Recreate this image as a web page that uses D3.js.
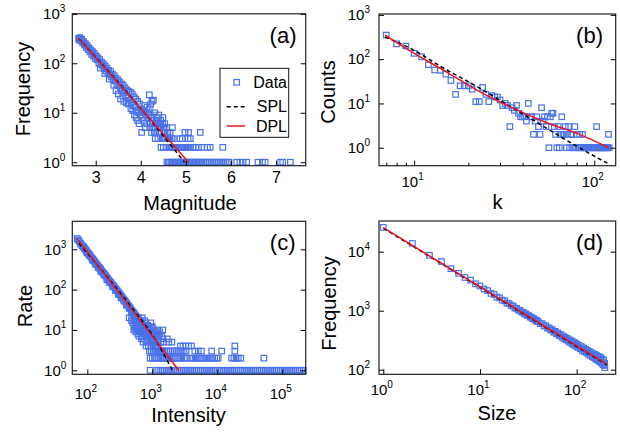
<!DOCTYPE html>
<html>
<head>
<meta charset="utf-8">
<script src="https://cdn.jsdelivr.net/npm/d3@7"></script>
<style>
  html, body { margin: 0; padding: 0; background: #fff; }
  svg { display: block; }
</style>
</head>
<body>
<svg id="fig" width="620" height="432"></svg>
<script>
// ---------- (a) earthquake magnitudes ----------
const magA = [2.62,2.63,2.64,2.65,2.67,2.69,2.71,2.73,2.75,2.77,2.79,2.81,2.83,2.85,2.87,2.89,2.91,2.93,2.95,2.97,2.99,
  3.01,3.03,3.05,3.07,3.09,3.11,3.13,3.15,3.17,3.19,3.21,3.23,3.25,3.27,3.29,3.31,3.33,3.35,3.37,3.39,
  3.41,3.43,3.45,3.47,3.49,3.51,3.53,3.55,3.57,3.59,3.61,3.63,3.65,3.67,3.69,3.71,3.73,3.75,3.77,3.79,
  3.81,3.83,3.85,3.87,3.89,3.91,3.93,3.95,3.97,3.99,
  3.1,3.2,3.3,3.4,3.45,3.5,3.55,3.6,3.62,3.68,3.72,3.78,3.82,3.86,3.9,3.93,3.96,4.02,
  4.01,4.03,4.05,4.07,4.09,4.11,4.13,4.15,4.17,4.19,4.21,4.23,4.25,4.27,4.29,4.31,4.33,4.35,4.37,4.39,
  4.41,4.43,4.45,4.47,4.49,4.51,4.53,4.55,4.57,4.59,4.61,
  4.19,4.28,4.22,4.14,4.08,4.18,4.24,4.34,4.36,4.42,4.46,4.3,4.38,4.26,4.32,4.4,4.44,4.48,4.52,4.1,4.2,4.5,4.7];
const freqA = [310,320,295,330,290,305,260,275,235,250,210,228,190,205,170,185,150,172,140,158,125,
  140,118,128,100,118,95,105,88,97,78,88,70,80,64,72,58,68,53,60,47,
  56,44,50,38,46,35,42,31,38,28,36,26,32,22,29,20,27,18,26,16,
  24,14,21,13,19,11,17,10,15,9,
  80,62,48,36,28,24,19,22,17,16,15,12,11,9,8,7,6,4,
  12,8,11,7,14,9,6,10,8,12,6,9,17,7,5,10,6,8,5,7,
  4,6,5,3,8,4,6,3,5,4,3,
  23,18,15,13,10,9,8,7,6,5,4,4,3,5,3,9,7,6,5,5,5,5,5];
// magnitudes that occur exactly 4, 3, 2 and 1 times
const magA4 = [4.24,4.33,4.4,4.54,4.6,4.65,4.98,5.06,5.32];
const magA3 = [4.48,4.52,4.58,4.62,4.64,4.68,4.72,4.87,4.92,5.05,5.1];
const magA2 = [4.45,4.5,4.56,4.63,4.66,4.7,4.73,4.76,4.79,4.83,4.87,4.9,4.93,4.96,5.0,5.03,5.06,5.1,
  5.16,5.22,5.28,5.35,5.48,5.54,5.82];
const magA1 = [4.58,4.61,4.64,4.67,4.7,4.73,4.76,4.79,4.82,4.85,4.88,4.91,4.94,4.97,5.0,5.03,5.06,5.09,
  5.12,5.15,5.18,5.21,5.24,5.27,5.3,5.33,5.36,5.4,5.44,5.48,5.52,5.56,5.6,5.64,5.68,5.72,5.76,5.8,
  5.84,5.88,5.92,5.96,6.13,6.2,6.27,6.35,6.6,6.7,6.76,7.1,7.15,7.32];
const splA = [[2.62,318],[4.0,12.2],[4.97,1.0]];
const dplA = [[2.61,324],[5.06,1]];

// ---------- (b) counts vs k ----------
const kB = [7,8,9,10,11,12,13,14,15,16,17,18,19,20,21,22,23,24,25,26,27,28,29,30,31,32,33,34,35,36,37,38,39,40,
  41,42,43,44,45,46,47,48,49,50,51,52,53,54,55,56,57,58,59,60,61,62,63,64,65,66,67,68,69,70,
  71,72,73,74,75,76,77,78,79,80,81,82,83,84,85,86,87,88,89,90,91,92,93,94,95,96,97,98,99,100,
  101,103,104,105,106,107,108,109,110,111,112,113,114,115,116,117,118,119,120,121];
const countB = [350,222,198,135,113,75,57,56,46,33,16,25,25,25,21,11,11,23,16,11,15,14,14,12,9,10,9,3,8,7,9,6,5,5,
  5,4,10,5,5,2,4,5,3,2,8,4,5,3,5,1,5,6,6,3,2,1,3,1,2,5,2,2,3,1,
  2,3,1,2,2,1,1,3,1,2,1,1,2,1,1,2,1,1,1,1,1,1,1,1,1,1,1,1,1,1,
  1,3,1,1,1,1,1,1,1,1,1,1,1,1,1,1,1,1,2,1];
const splB = [[6.9,316],[9.5,177],[14.6,62.7],[22.3,24.1],[34.2,8.51],[52.5,3.01],[80.4,1.06],[118,0.449]];
const dplB = [[6.9,347],[9.9,138],[15.0,52.5],[22.3,20],[35.2,7.94],[54.1,3.72],[82.8,2.0],[120.2,1.0]];

// ---------- (c) rate vs intensity ----------
const intensityC = [70,72,75,78,80,83,86,90,93,96,100,103,106,110,114,118,122,126,130,135,
  140,145,150,155,160,166,172,178,185,192,199,206,214,222,230,239,248,257,267,277,
  288,299,310,322,334,347,360,374,388,403,418,434,451,468,486,505,524,544,565,587,
  609,632,656,681,707,734,762,791,821,852,885,919,954,990,1028,1067,1108,1150,1194,1240,
  1290,1340,1390,1450,1500,
  88,98,108,120,133,147,162,180,200,220,245,270,300,330,365,400,440,480,520,560];
const rateC = [1850,1700,1600,1420,1350,1230,1150,1050,1000,930,860,790,760,700,640,600,560,520,490,450,
  420,390,360,340,318,290,270,255,236,220,200,188,172,160,150,138,128,120,110,102,
  94,87,80,74,68,63,58,54,50,46,42,39,36,33,30,28,26,24,22,20,
  18,17,15,14,13,12,11,10,9,8,7,7,6,6,5,5,4,4,4,3,
  3,3,3,2,2,
  1150,820,700,540,430,350,280,230,175,150,118,95,76,62,52,41,34,28,23,19];
// intensities recorded at a common low rate, one list per rate level
const rowRatesC = [20,17,15,13,12,11,10,9,8,7,6,5,4,3,2,1];
const rowIntC = [
  [440,480,520,560,610,700],
  [480,530,590,650,760],
  [500,560,620,700,800,950],
  [520,580,640,720,850],
  [560,600,680,780,900,1000],
  [540,620,700,820,980],
  [520,580,660,750,880,1050,1200,1450],
  [560,640,720,800,950,1100,1300],
  [600,680,760,870,1000,1150,1300],
  [620,700,800,900,1050,1200,1400],
  [680,760,850,980,1100,1250,1450,1700],
  [720,820,950,1080,1200,1350,1500,1800,2000],
  [800,870,950,1030,1120,1220,2700,2950,3250,3600,4000,18600],
  [900,960,1030,1100,1180,1260,1350,1450,1550,1660,1780,1900,2040,2180,2340,2500,2680,2870,3070,3300,
   4500,5100,5700,8200,11700,18600],
  [925,1000,1080,1160,1250,1350,1450,1560,1680,1800,1950,2100,2250,2450,2650,2850,3100,3350,3900,4200,
   4550,4900,5300,5700,6200,6700,7200,7800,8400,9100,9800,10300,16600,18000,19500,21000,23000,52000],
  [925,1170,1250,1340,1430,1530,1640,1750,1870,2000,2140,2290,2450,2620,2800,3000,3200,3430,3670,3920,
   4200,4490,4800,5140,5500,5880,6290,6730,7200,7700,8240,8820,9440,10100,10800,11550,12350,13200,
   14150,15100,16200,17300,18500,19800,21200,22700,24300,26000,27800,29700,31800,34000,36400,38900,
   41600,44500,47600,50900,54500,58300,62400,66700,71400,76400,81700,87400,93500,100000,107000,
   114500,122500,131000,140000,150000,160500,172000,184000,197000,211000]
];
const splC = [[74.1,1413],[199.5,214],[501,33.1],[1000,7.59],[2042,1.0]];
const dplC = [[70,1830],[2600,0.96]];

// ---------- (d) frequency vs size ----------
const sizeD = [1,2,3,4,5,6,7,8,9,10,11,12,13,14,15,16,17,18,19,20,21,22,23,24,25,26,27,28,29,30,
  31,32,33,34,35,36,37,38,39,40,
  42,44,46,48,50,52,54,56,58,60,62,64,66,68,70,72,74,76,78,80,82,84,86,88,90,92,94,96,98,100,
  103,106,109,112,115,118,121,124,127,130,133,136,139,142,145,148,151,154,157,160,
  163,166,169,172,175,178,181,184,187,190,193,195,196];
const freqD = [25800,13800,8700,6800,5150,4300,3650,3300,2850,2620,2330,2190,1960,1880,1700,1650,1510,1470,1340,1320,
  1225,1200,1110,1095,1025,1012,948,940,880,878,826,822,775,776,730,735,690,697,652,662,
  605,603,550,556,505,514,468,478,432,447,405,420,380,395,356,374,338,355,320,338,
  303,322,290,308,275,296,262,285,252,272,
  238,258,226,245,212,233,202,222,193,212,182,203,175,195,166,186,160,181,152,176,
  147,168,141,164,135,160,130,150,122,145,118,128,108];
const splD = [[1,25000],[205,121]];
const dplD = [[1,25500],[205,124]];

// ---------- tick values ----------
const ticksAx = [3,4,5,6,7];
const ticksAy = [1,10,100,1000];
const ticksBx = [10,100];
const minorBx = [7,8,9,20,30,40,50,60,70,80,90];
const ticksBy = [1,10,100,1000];
const ticksCx = [1e2,1e3,1e4,1e5];
const ticksCy = [1,10,100,1000];
const ticksDx = [1,10,100];
const ticksDy = [100,1000,10000];

const FONT = "'Liberation Sans', Arial, Helvetica, sans-serif";
const BLUE = "#4a72e8";
const MS = 5.5; // marker side
const svg = d3.select("#fig").attr("font-family", FONT);

function powerLabels(sel, supSize, raise) {
  sel.each(function(d) {
    const t = d3.select(this);
    t.text(null);
    t.append("tspan").text("10");
    t.append("tspan").attr("font-size", supSize).attr("dy", -raise).text(Math.round(Math.log10(d)));
  });
}

function drawPanel(p) {
  const g = svg.append("g");
  const x = p.x, y = p.y;
  const [x0, x1] = x.range();
  const [yb, yt] = y.range();

  // markers
  g.append("g").selectAll("rect").data(p.points).join("rect")
    .attr("x", d => x(d[0]) - MS / 2).attr("y", d => y(d[1]) - MS / 2)
    .attr("width", MS).attr("height", MS)
    .attr("fill", "none").attr("stroke", BLUE).attr("stroke-width", 1.2);

  // fitted curves
  const line = d3.line().x(d => x(d[0])).y(d => y(d[1])).curve(d3.curveMonotoneX);
  g.append("path").attr("d", line(p.spl)).attr("fill", "none")
    .attr("stroke", "#000").attr("stroke-width", 1.5).attr("stroke-dasharray", "4,3");
  g.append("path").attr("d", line(p.dpl)).attr("fill", "none")
    .attr("stroke", "#e8141c").attr("stroke-width", 1.5);

  // frame
  g.append("rect").attr("x", x0).attr("y", yt).attr("width", x1 - x0).attr("height", yb - yt)
    .attr("fill", "none").attr("stroke", "#222").attr("stroke-width", 1.2);

  // y axis (left, labelled) and mirrored ticks on the right
  const ya = g.append("g").attr("transform", `translate(${x0},0)`)
    .call(d3.axisLeft(y).tickValues(p.yTicks).tickSizeInner(-5).tickSizeOuter(0).tickPadding(p.yPad));
  ya.attr("font-family", FONT).attr("font-size", 15);
  ya.select(".domain").remove();
  powerLabels(ya.selectAll(".tick text"), 10, 7);

  const yr = g.append("g").attr("transform", `translate(${x1},0)`)
    .call(d3.axisRight(y).tickValues(p.yTicks).tickSizeInner(-5).tickSizeOuter(0).tickFormat(""));
  yr.select(".domain").remove();

  // x axis
  const xAxis = d3.axisBottom(x).tickValues(p.xTicks).tickSizeInner(-5).tickSizeOuter(0).tickPadding(p.xPad);
  if (!p.xPow) xAxis.tickFormat(d3.format("d"));
  const xa = g.append("g").attr("transform", `translate(0,${yb})`).call(xAxis);
  xa.attr("font-family", FONT).attr("font-size", p.xPow ? 15 : 16);
  xa.select(".domain").remove();
  if (p.xPow) {
    powerLabels(xa.selectAll(".tick text"), 10, 7);
    xa.selectAll(".tick text").attr("dx", -2);
  }
  if (p.xMinor) {
    const xm = g.append("g").attr("transform", `translate(0,${yb})`)
      .call(d3.axisBottom(x).tickValues(p.xMinor).tickSizeInner(-3).tickSizeOuter(0).tickFormat(""));
    xm.select(".domain").remove();
  }

  // titles
  g.append("text").attr("x", p.xt[0]).attr("y", p.xt[1]).attr("text-anchor", "middle")
    .attr("font-size", 20).text(p.xTitle);
  g.append("text").attr("transform", `translate(${p.yt[0]},${p.yt[1]}) rotate(-90)`)
    .attr("text-anchor", "middle").attr("font-size", 20).text(p.yTitle);
  g.append("text").attr("x", p.tag[0]).attr("y", p.tag[1]).attr("text-anchor", "end")
    .attr("font-size", 22).text(p.tagText);
  return g;
}

// point lists
const ptsA = magA.map((m, i) => [m, freqA[i]])
  .concat(magA4.map(m => [m, 4]), magA3.map(m => [m, 3]), magA2.map(m => [m, 2]), magA1.map(m => [m, 1]));
const ptsB = kB.map((k, i) => [k, countB[i]]);
const ptsC = intensityC.map((v, i) => [v, rateC[i]])
  .concat(...rowRatesC.map((r, j) => rowIntC[j].map(v => [v, r])));
const ptsD = sizeD.map((s, i) => [s, freqD[i]]);

// (a)
const gA = drawPanel({
  x: d3.scaleLinear().domain([2.48, 7.66]).range([72.3, 305.7]),
  y: d3.scaleLog().domain([Math.pow(10, -0.07), 1000]).range([165.7, 13.8]),
  points: ptsA, spl: splA, dpl: dplA,
  xTicks: ticksAx, yTicks: ticksAy, xPow: false, xPad: 6, yPad: 7,
  xTitle: "Magnitude", xt: [190, 210], yTitle: "Frequency", yt: [30, 89],
  tagText: "(a)", tag: [296.5, 42.5]
});

// legend of (a)
const lg = gA.append("g");
lg.append("rect").attr("x", 220).attr("y", 68.3).attr("width", 68.7).attr("height", 69)
  .attr("fill", "#fff").attr("stroke", "#111").attr("stroke-width", 1);
lg.append("rect").attr("x", 236.7 - MS / 2).attr("y", 82.3 - MS / 2).attr("width", MS).attr("height", MS)
  .attr("fill", "none").attr("stroke", BLUE).attr("stroke-width", 1.2);
lg.append("line").attr("x1", 226.7).attr("x2", 245).attr("y1", 106.7).attr("y2", 106.7)
  .attr("stroke", "#000").attr("stroke-width", 1.5).attr("stroke-dasharray", "4,3");
lg.append("line").attr("x1", 226.7).attr("x2", 245).attr("y1", 126).attr("y2", 126)
  .attr("stroke", "#e8141c").attr("stroke-width", 1.5);
[["Data", 88], ["SPL", 112.4], ["DPL", 131.5]].forEach(([t, yy]) => {
  lg.append("text").attr("x", 287).attr("y", yy).attr("text-anchor", "end")
    .attr("font-size", 16).text(t);
});

// (b)
drawPanel({
  x: d3.scaleLog().domain([Math.pow(10, 0.805), Math.pow(10, 2.119)]).range([379, 615.7]),
  y: d3.scaleLog().domain([Math.pow(10, -0.406), Math.pow(10, 3.02)]).range([165.7, 14]),
  points: ptsB, spl: splB, dpl: dplB,
  xTicks: ticksBx, xMinor: minorBx, yTicks: ticksBy, xPow: true, xPad: 11, yPad: 9,
  xTitle: "k", xt: [497.5, 209], yTitle: "Counts", yt: [335, 92],
  tagText: "(b)", tag: [603, 42.5]
});

// (c)
drawPanel({
  x: d3.scaleLog().domain([Math.pow(10, 1.769), Math.pow(10, 5.36)]).range([72.3, 305.7]),
  y: d3.scaleLog().domain([Math.pow(10, -0.099), Math.pow(10, 3.694)]).range([374.3, 221.3]),
  points: ptsC, spl: splC, dpl: dplC,
  xTicks: ticksCx, yTicks: ticksCy, xPow: true, xPad: 14, yPad: 6,
  xTitle: "Intensity", xt: [188.5, 422], yTitle: "Rate", yt: [31.5, 306],
  tagText: "(c)", tag: [295.5, 250]
});

// (d)
drawPanel({
  x: d3.scaleLog().domain([Math.pow(10, -0.0445), Math.pow(10, 2.404)]).range([379, 615.7]),
  y: d3.scaleLog().domain([Math.pow(10, 1.922), Math.pow(10, 4.52)]).range([374.3, 221]),
  points: ptsD, spl: splD, dpl: dplD,
  xTicks: ticksDx, yTicks: ticksDy, xPow: true, xPad: 10, yPad: 9,
  xTitle: "Size", xt: [497, 420], yTitle: "Frequency", yt: [336, 303.5],
  tagText: "(d)", tag: [603, 250]
});
</script>
</body>
</html>
